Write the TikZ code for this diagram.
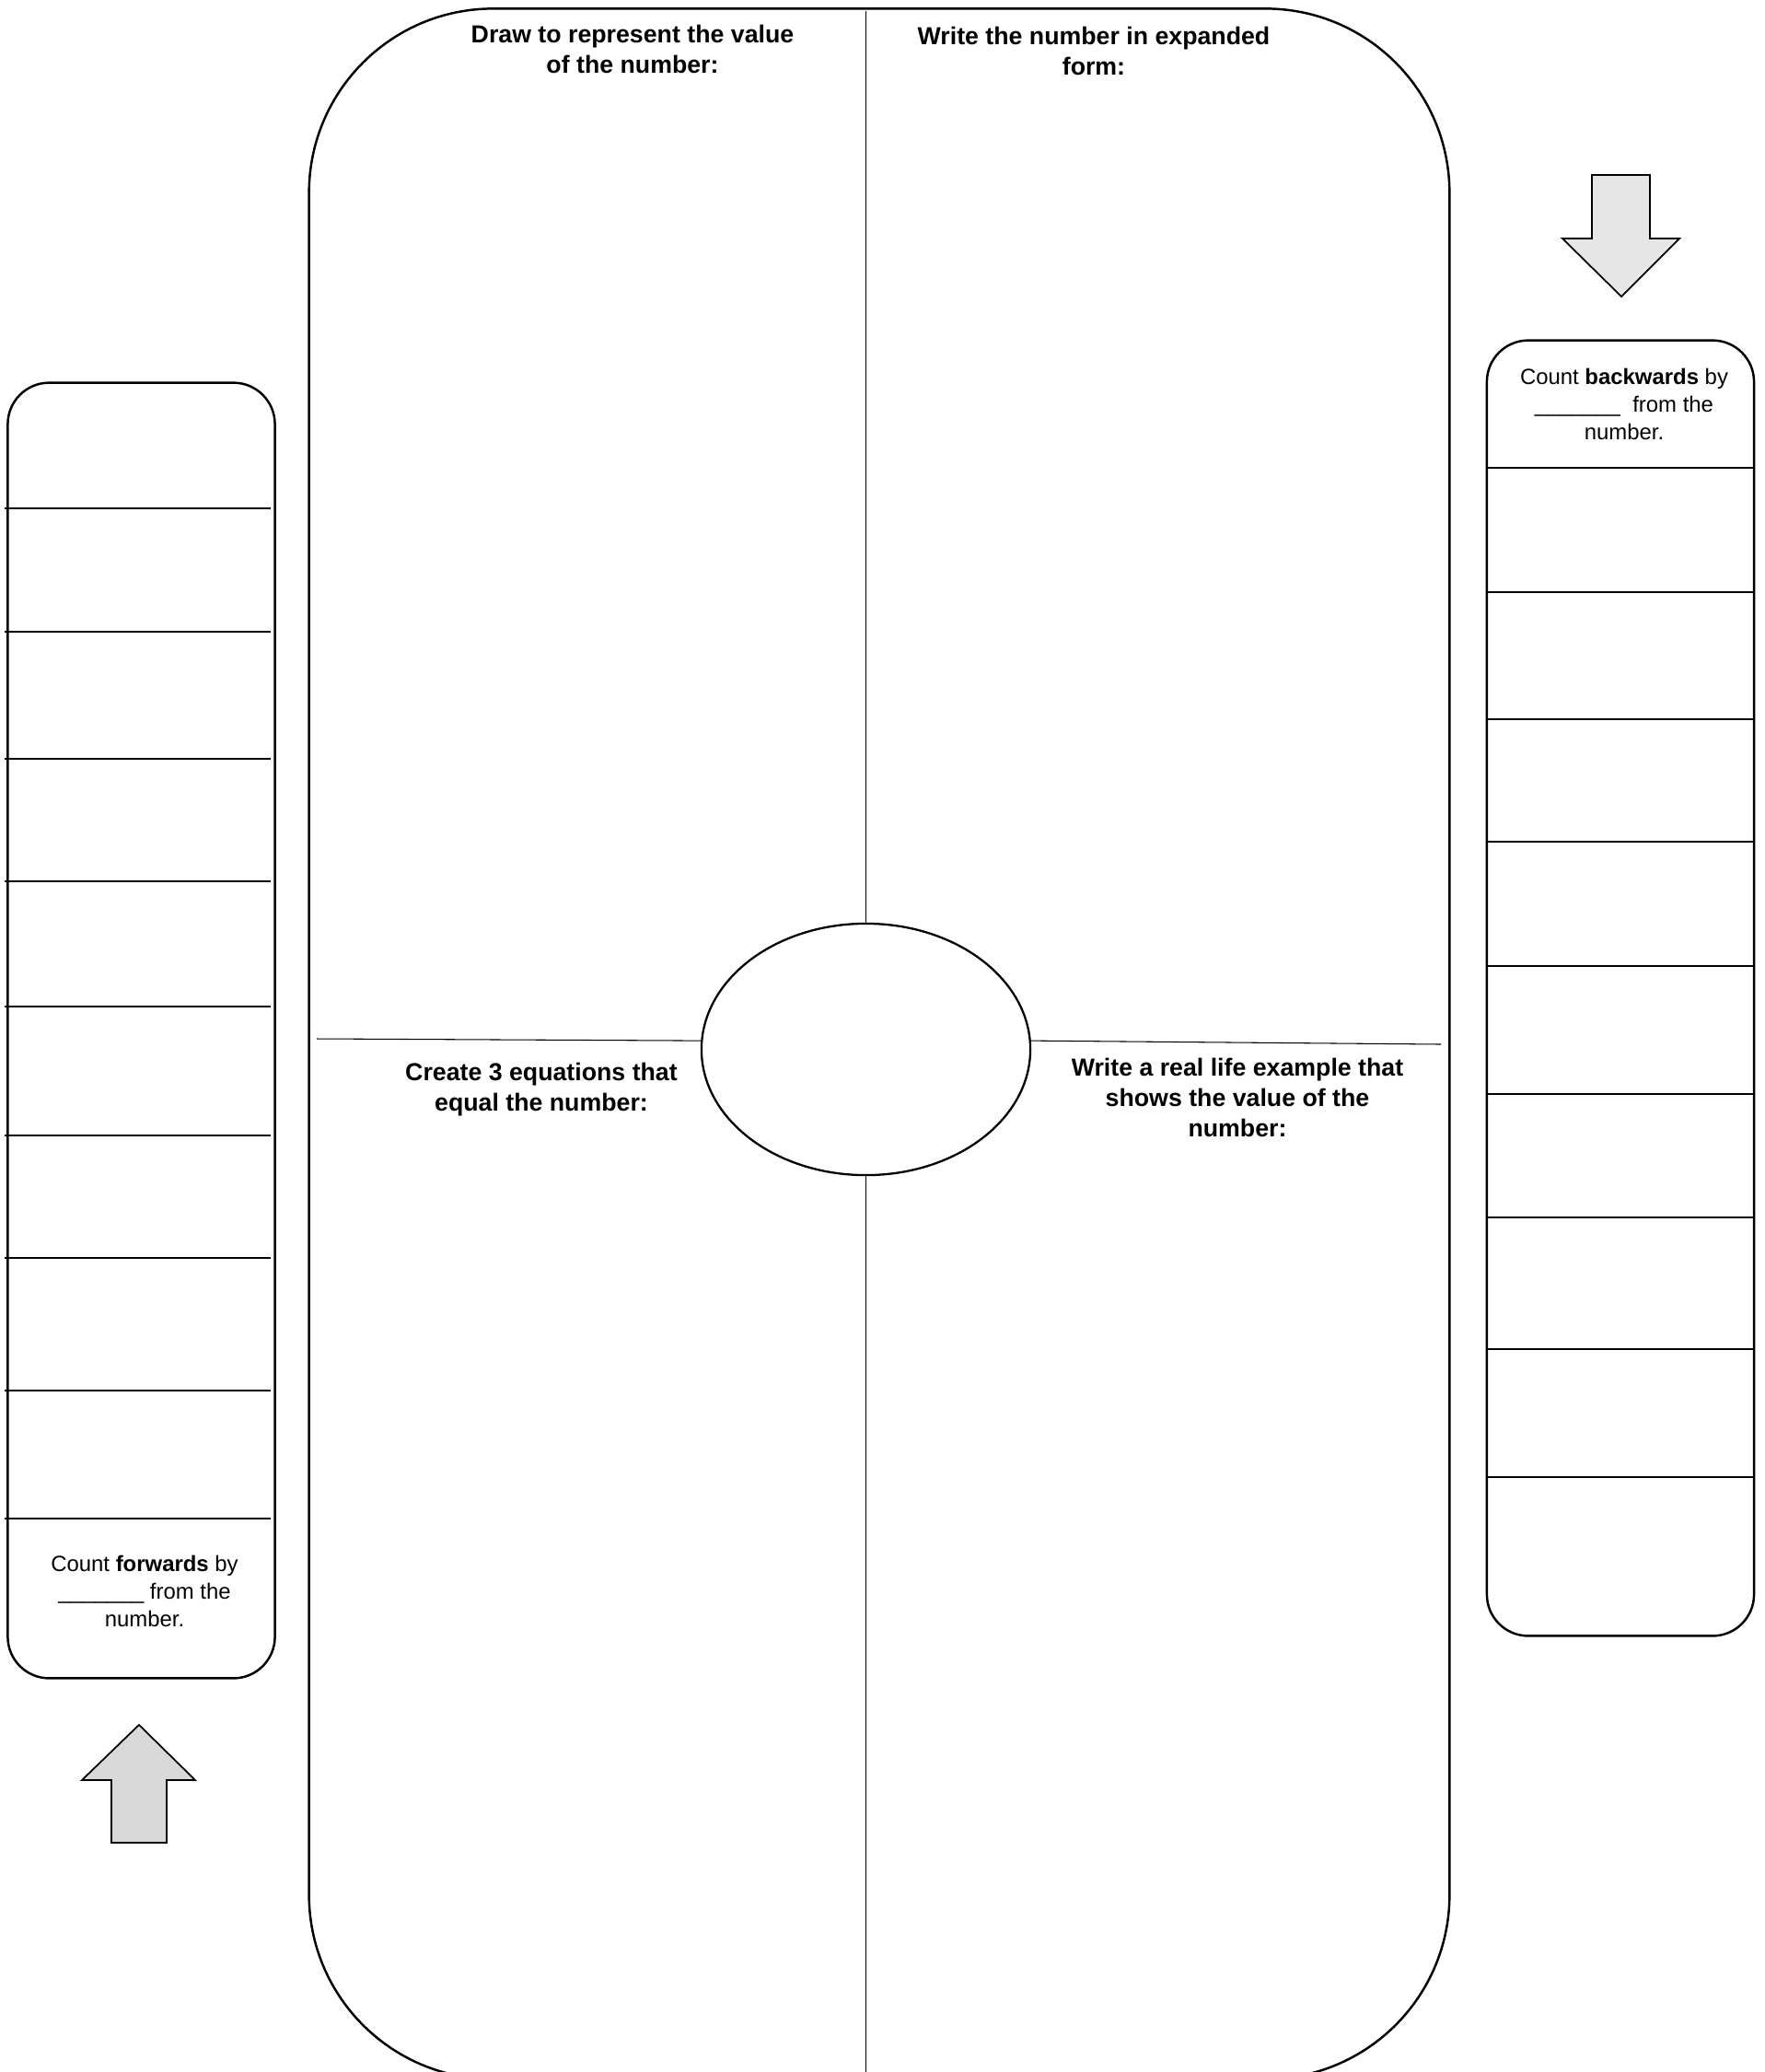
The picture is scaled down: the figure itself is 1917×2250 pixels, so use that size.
\documentclass[tikz,border=0pt]{standalone}
\usepackage{fontspec}
\setmainfont{Liberation Sans}
\usetikzlibrary{shapes.geometric}
\definecolor{arrowlight}{HTML}{E6E6E6}
\definecolor{arrowdark}{HTML}{D9D9D9}

\begin{document}
\begin{tikzpicture}
  [x=0.01cm, y=-0.01cm,
   frame/.style={draw, line width=0.7pt, rounded corners=2cm,
      minimum width=12.38cm, minimum height=22.47cm, inner sep=0},
   strip/.style={draw, line width=0.7pt, rounded corners=0.45cm,
      minimum width=2.9cm, minimum height=14.06cm, inner sep=0},
   rule/.style={line width=0.3pt},
   prompt/.style={font=\bfseries\fontsize{7.6}{9.3}\selectfont,
      align=center, inner sep=0, anchor=north},
   hint/.style={font=\fontsize{6.8}{8.55}\selectfont,
      align=center, inner sep=0, anchor=north},
   bigarrow/.style={draw, line width=0.5pt, line join=miter},
  ]
  \useasboundingbox (0,0) rectangle (1917,2250);
  \clip (0,0) rectangle (1917,2250);

  % the big board with the number in the middle
  \node[frame] (board) at (955,1133.5) {};
  \node[draw, ellipse, line width=0.65pt, minimum width=3.57cm,
        minimum height=2.73cm, inner sep=0] (num) at (940.5,1139.5) {};
  \coordinate (lend) at (344,1128);
  \coordinate (rend) at (1565,1134);
  \draw[rule] ([yshift=-0.04cm]num.north |- board.north) -- (num.north);
  \draw[rule] (num.south) -- (num.south |- board.south);
  \draw[rule] (lend) -- (num.177);
  \draw[rule] (num.3) -- (rend);

  \node[prompt] (drawit) at (687,26.5) {Draw to represent the value\\of the number:};
  \node[prompt] (expand) at (1188,28.5) {Write the number in expanded\\form:};
  \node[prompt] (equate) at (588,1153.5) {Create 3 equations that\\equal the number:};
  \node[prompt] (reallife) at (1344,1148.5) {Write a real life example that\\shows the value of the\\number:};

  % counting strips
  \node[strip] (fwd) at (153.5,1119) {};
  \node[strip] (bwd) at (1760,1073) {};
  \foreach \y in {552,686,824,957,1093,1233,1366,1510,1649}
    \draw[rule] ([xshift=-0.02cm]fwd.west |- 0,\y) -- ([xshift=-0.06cm]fwd.east |- 0,\y);
  \foreach \y in {508,643,781,914,1049,1188,1322,1465,1604}
    \draw[rule] (bwd.west |- 0,\y) -- ([xshift=-0.02cm]bwd.east |- 0,\y);

  \node[hint] (fwdtext) at (157,1688) {Count \textbf{forwards} by\\\_\_\_\_\_\_\_ from the\\number.};
  \node[hint] (bwdtext) at (1764,399) {Count \textbf{backwards} by\\\_\_\_\_\_\_\_~~from the\\number.};

  % arrows
  \draw[bigarrow, fill=arrowlight] (1729,190) -- (1792,190) -- (1792,259)
    -- (1824,259) -- (1761,322) -- (1697,259) -- (1729,259) -- cycle;
  \draw[bigarrow, fill=arrowdark] (151,1873) -- (212,1933) -- (181,1933)
    -- (181,2001) -- (121,2001) -- (121,1933) -- (89,1933) -- cycle;
\end{tikzpicture}
\end{document}
